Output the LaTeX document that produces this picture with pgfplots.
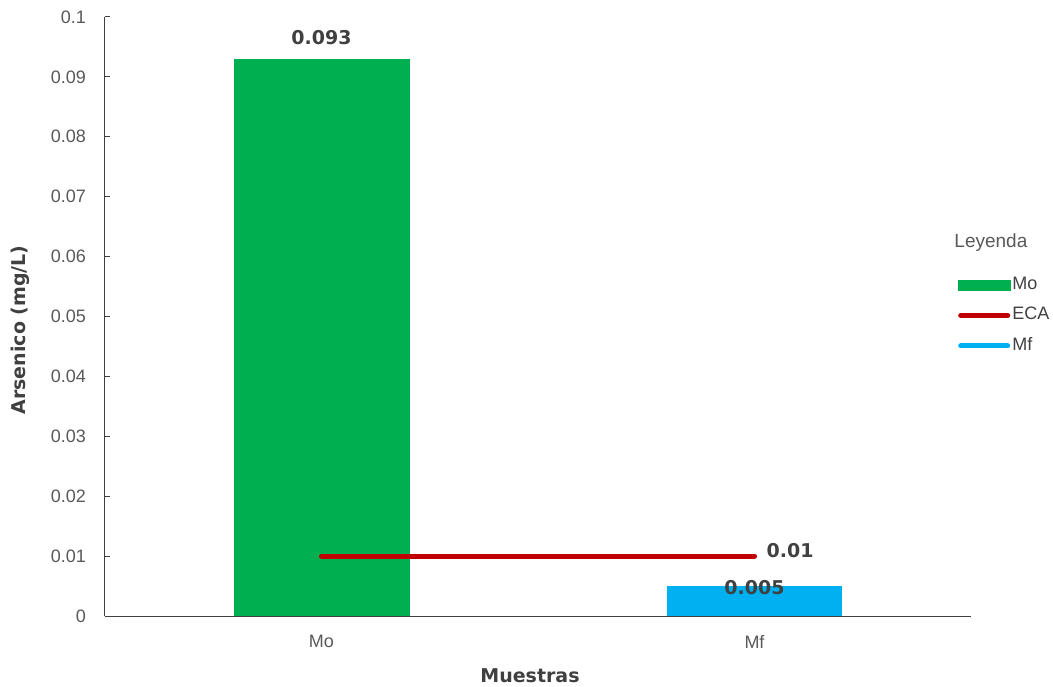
\documentclass[border=0pt]{standalone}
\usepackage{pgfplots}
\pgfplotsset{compat=1.18}
\usepackage{fontspec}
\setmainfont{Liberation Sans}
\newfontfamily\dv{DejaVu Sans}
\definecolor{cgreen}{HTML}{00B050}
\definecolor{cred}{HTML}{C00000}
\definecolor{cblue}{HTML}{00B0F0}
\definecolor{tgray}{HTML}{595959}
\definecolor{dgray}{HTML}{404040}
\begin{document}
\begin{tikzpicture}[x=1pt,y=1pt]
\useasboundingbox (0,0) rectangle (1053,686);
\begin{axis}[
 at={(105pt,70pt)}, anchor=south west,
 scale only axis, width=866pt, height=599pt,
 xmin=-0.5, xmax=1.5, ymin=0, ymax=0.1,
 axis x line=bottom, axis y line=left,
 axis line style={-, draw=dgray, line width=1pt},
 xtick={0,1}, xticklabels={Mo,Mf},
 ytick={0,0.01,0.02,0.03,0.04,0.05,0.06,0.07,0.08,0.09,0.1},
 yticklabels={0,0.01,0.02,0.03,0.04,0.05,0.06,0.07,0.08,0.09,0.1},
 tick label style={font=\fontsize{18}{20}\selectfont, text=tgray},
 yticklabel style={anchor=east, inner sep=0pt, xshift=-19pt},
 xticklabel style={anchor=north, inner sep=0pt, yshift=-19pt},
 x tick style={draw=none},
 y tick style={draw=dgray, line width=1pt},
 tick align=inside, major tick length=5pt,
 ylabel={Arsenico (mg/L)},
 ylabel style={at={(rel axis cs:-0.0982,0.4775)}, anchor=center, rotate=0, font=\dv\bfseries\fontsize{19}{21}\selectfont, text=dgray},
 xlabel={Muestras},
 xlabel style={at={(rel axis cs:0.4908,0)}, anchor=center, yshift=-60pt, font=\dv\bfseries\fontsize{19}{21}\selectfont, text=dgray},
 legend style={at={(rel axis cs:0.985,0.5668)}, anchor=north west, draw=none, fill=none, inner sep=0pt, outer sep=0pt,
   font=\fontsize{18}{20}\selectfont, text=dgray, row sep=13.5pt, column sep=2pt,
   nodes={inner sep=0pt, text height=13pt, text depth=4pt}},
 legend cell align=left,
 clip=false,
]
\addplot[ybar, bar width=176pt, bar shift=0pt, fill=cgreen, draw=none, forget plot] coordinates {(0,0.093)};
\addplot[ybar, bar width=175pt, bar shift=0pt, fill=cblue, draw=none, forget plot] coordinates {(1,0.005)};
\addplot[color=cred, line width=5pt, line cap=round, forget plot] coordinates {(0,0.01) (1,0.01)};
\addlegendimage{legend image code/.code={\fill[cgreen] (0pt,-5pt) rectangle (52pt,5pt);}}
\addlegendentry{Mo}
\addlegendimage{legend image code/.code={\draw[cred, line width=5pt, line cap=round] (2.5pt,0pt) -- (49.5pt,0pt);}}
\addlegendentry{ECA}
\addlegendimage{legend image code/.code={\draw[cblue, line width=5pt, line cap=round] (2.5pt,0pt) -- (49.5pt,0pt);}}
\addlegendentry{Mf}
\node[font=\dv\bfseries\fontsize{19}{21}\selectfont, text=dgray, anchor=center, yshift=21pt] at (axis cs:0,0.093) {0.093};
\node[font=\dv\bfseries\fontsize{19}{21}\selectfont, text=dgray, anchor=center, yshift=-2pt] at (axis cs:1,0.005) {0.005};
\node[font=\dv\bfseries\fontsize{19}{21}\selectfont, text=dgray, anchor=west, inner sep=0pt, xshift=12pt, yshift=6pt] at (axis cs:1,0.01) {0.01};
\node[font=\fontsize{19}{21}\selectfont, text=tgray, anchor=center] at (rel axis cs:1.023,0.6227) {Leyenda};
\end{axis}
\end{tikzpicture}
\end{document}
